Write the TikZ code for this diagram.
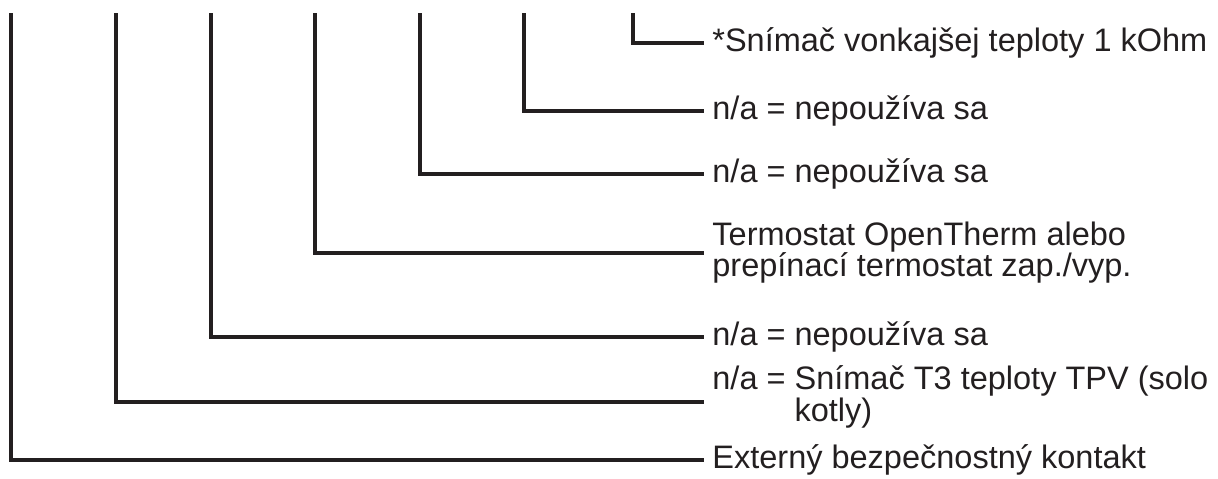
\documentclass[tikz,border=0pt]{standalone}
\usepackage{fontspec}
\setmainfont{Liberation Sans}
\usepackage{xcolor}
\definecolor{ink}{HTML}{231F20}
\tikzset{
    wire/.style={line width=2.1pt, color=ink, shorten >=4pt},
    lbl/.style={anchor=west, inner sep=0pt, text=ink, font=\fontsize{16.25}{15.8}\selectfont},
    onelbl/.style={lbl, text height=11.9pt, text depth=3.4pt},
    twolbl/.style={lbl, align=left}
}

\begin{document}
\begin{tikzpicture}[x=0.5pt, y=-0.5pt]
    \useasboundingbox (0, 0) rectangle (1218, 478);

    \coordinate (pin1) at (633, 13);
    \coordinate (pin2) at (524, 13);
    \coordinate (pin3) at (420, 13);
    \coordinate (pin4) at (315, 13);
    \coordinate (pin5) at (211, 13);
    \coordinate (pin6) at (116, 13);
    \coordinate (pin7) at (11, 13);

    \node[onelbl] (outsens) at (712, 43.3) {*Snímač vonkajšej teploty 1 kOhm};
    \node[onelbl] (unused1) at (712, 110.7) {n/a = nepoužíva sa};
    \node[onelbl] (unused2) at (712, 174) {n/a = nepoužíva sa};
    \node[twolbl] (thermo) at (712, 252.7) {Termostat OpenTherm alebo\\prepínací termostat zap./vyp.};
    \node[onelbl] (unused3) at (712, 336.7) {n/a = nepoužíva sa};
    \node[twolbl] (dhwsens) at (712, 397) {n/a = Snímač T3 teploty TPV (solo\\\phantom{n/a = }kotly)};
    \node[onelbl] (safety) at (712, 460) {Externý bezpečnostný kontakt};

    \draw[wire] (pin1) |- (outsens.west);
    \draw[wire] (pin2) |- (unused1.west);
    \draw[wire] (pin3) |- (unused2.west);
    \draw[wire] (pin4) |- (thermo.west);
    \draw[wire] (pin5) |- (unused3.west);
    \draw[wire] (pin6) |- ([yshift=-2.4pt]dhwsens.west);
    \draw[wire] (pin7) |- (safety.west);
\end{tikzpicture}
\end{document}
